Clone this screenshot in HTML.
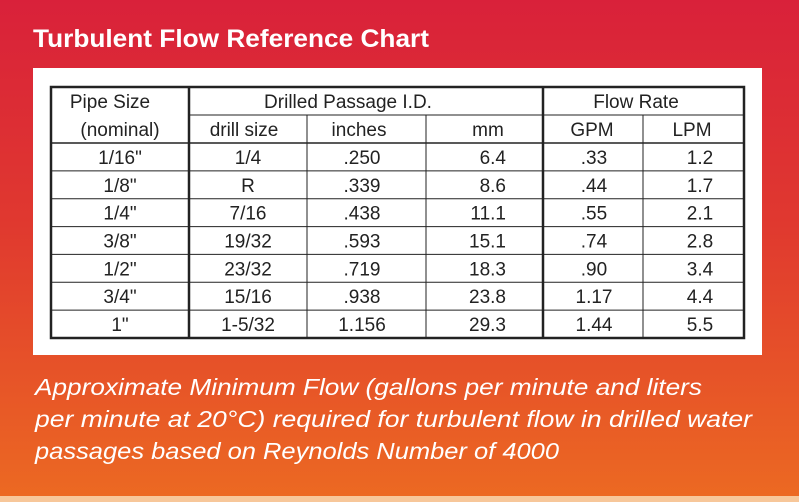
<!DOCTYPE html>
<html><head><meta charset="utf-8"><style>
html,body{margin:0;padding:0;width:799px;height:502px;overflow:hidden}
svg{display:block}
text{font-family:"Liberation Sans",sans-serif}
</style></head><body>
<svg id="chart" width="799" height="502" viewBox="0 0 799 502">
<defs><linearGradient id="bg" x1="0" y1="0" x2="0" y2="1">
<stop offset="0" stop-color="#d9213a"/><stop offset="0.45" stop-color="#e0392f"/><stop offset="1" stop-color="#ec6a22"/></linearGradient></defs>
<rect width="799" height="502" fill="url(#bg)"/>
<rect x="0" y="496" width="799" height="6" fill="#f7c79a"/>
<text x="33" y="47" font-size="25" font-weight="bold" fill="#fff" textLength="396" lengthAdjust="spacingAndGlyphs">Turbulent Flow Reference Chart</text>
<rect x="33" y="68" width="729" height="287" fill="#fff"/>
<g id="grid"></g>
<g id="cells"></g>
<g fill="#fff" font-style="italic" font-size="23">
<text x="35" y="395" textLength="667" lengthAdjust="spacingAndGlyphs">Approximate Minimum Flow (gallons per minute and liters</text>
<text x="35" y="427" textLength="717" lengthAdjust="spacingAndGlyphs">per minute at 20°C) required for turbulent flow in drilled water</text>
<text x="35" y="459" textLength="524" lengthAdjust="spacingAndGlyphs">passages based on Reynolds Number of 4000</text>
</g>
</svg>
<script>
const pipeSizes=['1/16"','1/8"','1/4"','3/8"','1/2"','3/4"','1"'];
const drillSizes=['1/4','R','7/16','19/32','23/32','15/16','1-5/32'];
const inches=['.250','.339','.438','.593','.719','.938','1.156'];
const mm=['6.4','8.6','11.1','15.1','18.3','23.8','29.3'];
const gpm=['.33','.44','.55','.74','.90','1.17','1.44'];
const lpm=['1.2','1.7','2.1','2.8','3.4','4.4','5.5'];
const NS='http://www.w3.org/2000/svg';
const grid=document.getElementById('grid'),cells=document.getElementById('cells');
const colX=[51,189,307,426,543,643,744];
const tTop=87,h1=115,h2=143,tBottom=338;
const rowH=(tBottom-h2)/pipeSizes.length;
function line(x1,y1,x2,y2,w,name){const l=document.createElementNS(NS,'line');
l.setAttribute('x1',x1);l.setAttribute('y1',y1);l.setAttribute('x2',x2);l.setAttribute('y2',y2);
l.setAttribute('stroke','#222');l.setAttribute('stroke-width',w);


grid.appendChild(l);}
function txt(x,y,s,anchor,name){const t=document.createElementNS(NS,'text');
t.setAttribute('x',x);t.setAttribute('y',y);t.setAttribute('font-size','19');t.setAttribute('fill','#222');
t.setAttribute('text-anchor',anchor||'middle');t.textContent=s;


cells.appendChild(t);}
line(colX[1],h1,colX[6],h1,1,'header-divider');
line(colX[0],h2,colX[6],h2,1.5,'header-bottom');
for(let i=1;i<pipeSizes.length;i++){line(colX[0],h2+i*rowH,colX[6],h2+i*rowH,1,'row-divider');}
line(colX[2],h1,colX[2],tBottom,1,'col-divider');
line(colX[3],h1,colX[3],tBottom,1,'col-divider');
line(colX[5],h1,colX[5],tBottom,1,'col-divider');
line(colX[1],tTop,colX[1],tBottom,2.5,'col-divider-thick');
line(colX[4],tTop,colX[4],tBottom,2.5,'col-divider-thick');
const b=document.createElementNS(NS,'rect');
b.setAttribute('x',colX[0]);b.setAttribute('y',tTop);b.setAttribute('width',colX[6]-colX[0]);b.setAttribute('height',tBottom-tTop);
b.setAttribute('fill','none');b.setAttribute('stroke','#222');b.setAttribute('stroke-width','2.5');


grid.appendChild(b);
txt(110,108,'Pipe Size','middle','header-pipe-size');
txt(120,136,'(nominal)','middle','header-nominal');
txt(348,108,'Drilled Passage I.D.','middle','header-drilled-passage');
txt(636,108,'Flow Rate','middle','header-flow-rate');
txt(244,136,'drill size','middle','header-drill-size');
txt(359,136,'inches','middle','header-inches');
txt(488,136,'mm','middle','header-mm');
txt(592,136,'GPM','middle','header-gpm');
txt(692,136,'LPM','middle','header-lpm');
for(let i=0;i<pipeSizes.length;i++){
 const y=h2+i*rowH+rowH/2+7;
 txt(120,y,pipeSizes[i],'middle','cell-pipe-size');
 txt(248,y,drillSizes[i],'middle','cell-drill-size');
 txt(362,y,inches[i],'middle','cell-inches');
 txt(506,y,mm[i],'end','cell-mm');
 txt(594,y,gpm[i],'middle','cell-gpm');
 txt(700,y,lpm[i],'middle','cell-lpm');
}
</script>
</body></html>
